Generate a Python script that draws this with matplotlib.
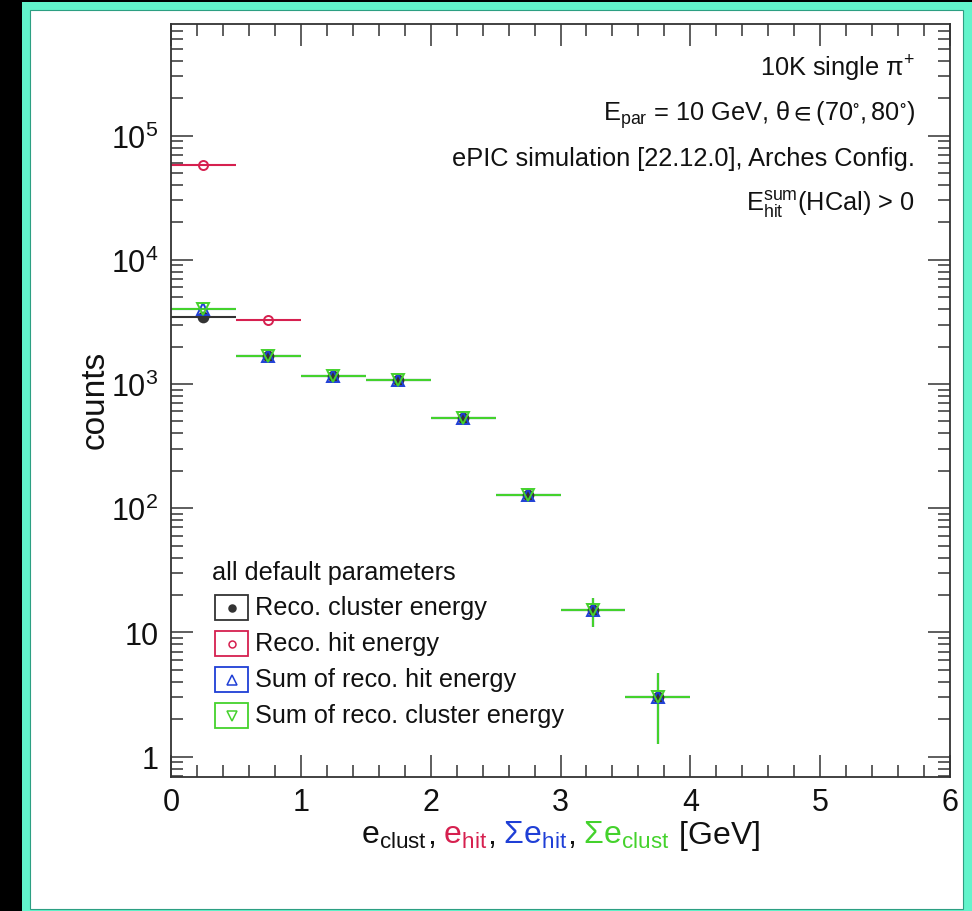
import numpy as np
import matplotlib
matplotlib.use('Agg')
import matplotlib.pyplot as plt
from matplotlib.patches import Rectangle
from matplotlib.lines import Line2D
from matplotlib.ticker import FixedLocator, FixedFormatter, MultipleLocator, LogLocator, NullFormatter

plt.rcParams['font.family'] = ['Liberation Sans', 'DejaVu Sans']
plt.rcParams['mathtext.fontset'] = 'custom'
plt.rcParams['mathtext.rm'] = 'Liberation Sans'
plt.rcParams['mathtext.it'] = 'Liberation Sans:italic'
plt.rcParams['mathtext.bf'] = 'Liberation Sans:bold'
plt.rcParams['mathtext.sf'] = 'Liberation Sans'
plt.rcParams['mathtext.default'] = 'regular'
plt.rcParams['mathtext.fallback'] = 'stixsans'

# energy bins, 0.5 GeV wide
bin_centres = [0.25, 0.75, 1.25, 1.75, 2.25, 2.75, 3.25, 3.75]
bin_halfwidth = 0.25

clust_counts = [3440, 1670, 1150, 1077, 535, 127, 15, 3]
hit_counts = [58000, 3300, 0, 0, 0, 0, 0, 0]
sum_hit_counts = [3980, 1670, 1150, 1077, 535, 127, 15, 3]
sum_clust_counts = [4020, 1670, 1150, 1077, 535, 127, 15, 3]

series_labels = ['Reco. cluster energy', 'Reco. hit energy',
                 'Sum of reco. hit energy', 'Sum of reco. cluster energy']
series_counts = [clust_counts, hit_counts, sum_hit_counts, sum_clust_counts]
series_colors = ['#333333', '#d6204f', '#1f3fd6', '#44d22c']
series_markers = ['o', 'o', '^', 'v']
series_filled = [True, False, False, False]
series_ms = [7, 6.5, 8.5, 8.5]

y_ticks = [1, 10, 100, 1e3, 1e4, 1e5]
y_ticklabels = ['1', '10', r'$10^{2}$', r'$10^{3}$', r'$10^{4}$', r'$10^{5}$']

info_lines = [r'10K single $\pi^{+}$',
              r'$E_{par}$ = 10 GeV, $\theta \in (70^{\circ}, 80^{\circ})$',
              'ePIC simulation [22.12.0], Arches Config.',
              r'$E_{hit}^{sum}$(HCal) > 0']

xlabel_parts = [(r'$e_{clust}$', '#111111'), (r'$,$', '#111111'),
                (r'$\ e_{hit}$', '#d6204f'), (r'$,$', '#111111'),
                (r'$\ \Sigma e_{hit}$', '#1f3fd6'), (r'$,$', '#111111'),
                (r'$\ \Sigma e_{clust}$', '#44d22c'), (r'$\ [GeV]$', '#111111')]

W, H = 972, 912
fig = plt.figure(figsize=(W / 100, H / 100), dpi=100, facecolor='black')

# canvas frame
fig.patches.append(Rectangle((22 / W, 0), (W - 22) / W, (H - 3) / H,
                             transform=fig.transFigure, facecolor='#62f4cb',
                             edgecolor='none', zorder=-2))
fig.patches.append(Rectangle((30 / W, 2 / H), (963 - 30) / W, (910 - 11) / H,
                             transform=fig.transFigure, facecolor='white',
                             edgecolor='#2c9f82', lw=0.8, zorder=-1))

ax = fig.add_axes([171 / W, (H - 778) / H, (950 - 171) / W, (778 - 25) / H])
ax.set_yscale('log')

for counts, color, marker, filled, ms in zip(series_counts, series_colors, series_markers,
                                             series_filled, series_ms):
    x = np.array(bin_centres)
    y = np.array(counts, dtype=float)
    keep = y > 0
    ax.errorbar(x[keep], y[keep], xerr=bin_halfwidth, yerr=np.sqrt(y[keep]),
                fmt=marker, color=color, ms=ms, mfc=color if filled else 'none',
                mec=color, mew=1.4, elinewidth=1.5, capsize=0)

ax.set_xlim(0, 6)
ax.set_ylim(0.685, 7.9e5)

ax.xaxis.set_major_locator(MultipleLocator(1))
ax.xaxis.set_minor_locator(MultipleLocator(0.2))
ax.yaxis.set_major_locator(FixedLocator(y_ticks))
ax.yaxis.set_major_formatter(FixedFormatter(y_ticklabels))
ax.yaxis.set_minor_locator(LogLocator(base=10, subs=np.arange(2, 10), numticks=20))
ax.yaxis.set_minor_formatter(NullFormatter())

ax.tick_params(which='both', direction='in', top=True, right=True,
               color='#333333', width=1.1, labelsize=22, labelcolor='#111111')
ax.tick_params(which='major', length=16)
ax.tick_params(which='minor', length=8.5)
ax.tick_params(axis='x', pad=7)
ax.tick_params(axis='y', pad=9)
for sp in ax.spines.values():
    sp.set_color('#333333')
    sp.set_linewidth(1.3)

# run information, top right
for i, line in enumerate(info_lines):
    fig.text(915 / W, 1 - (76 + 45 * i) / H, line, ha='right', va='baseline',
             fontsize=18.3, color='#111111')

# legend drawn by hand: boxed markers
fig.text(212 / W, 1 - 580 / H, 'all default parameters', ha='left', va='baseline',
         fontsize=18.2, color='#111111')
for i, (label, color, marker, filled) in enumerate(zip(series_labels, series_colors,
                                                       series_markers, series_filled)):
    yc = 608.5 + 36 * i
    fig.patches.append(Rectangle((215 / W, 1 - (yc + 12.5) / H), 33 / W, 25 / H,
                                 transform=fig.transFigure, facecolor='white',
                                 edgecolor=color, lw=1.3))
    fig.lines.append(Line2D([231.5 / W], [1 - yc / H], transform=fig.transFigure,
                            marker=marker, ms=5 if marker == 'o' else 6.5,
                            mfc=color if filled else 'none', mec=color,
                            mew=1.1, ls='none'))
    fig.text(255 / W, 1 - (yc + 7) / H, label, ha='left', va='baseline',
             fontsize=18.2, color='#111111')

# axis titles
fig.text(95 / W, 1 - 400 / H, 'counts', rotation=90, ha='center', va='center',
         fontsize=24, color='#111111')

renderer = fig.canvas.get_renderer()
parts = [fig.text(0, 1 - 844 / H, s, color=c, ha='left', va='baseline', fontsize=23)
         for s, c in xlabel_parts]
widths = [t.get_window_extent(renderer).width for t in parts]
xpos = 560.5 - sum(widths) / 2
for t, w in zip(parts, widths):
    t.set_x(xpos / W)
    xpos += w

fig.savefig('out.png', dpi=100, facecolor=fig.get_facecolor())
